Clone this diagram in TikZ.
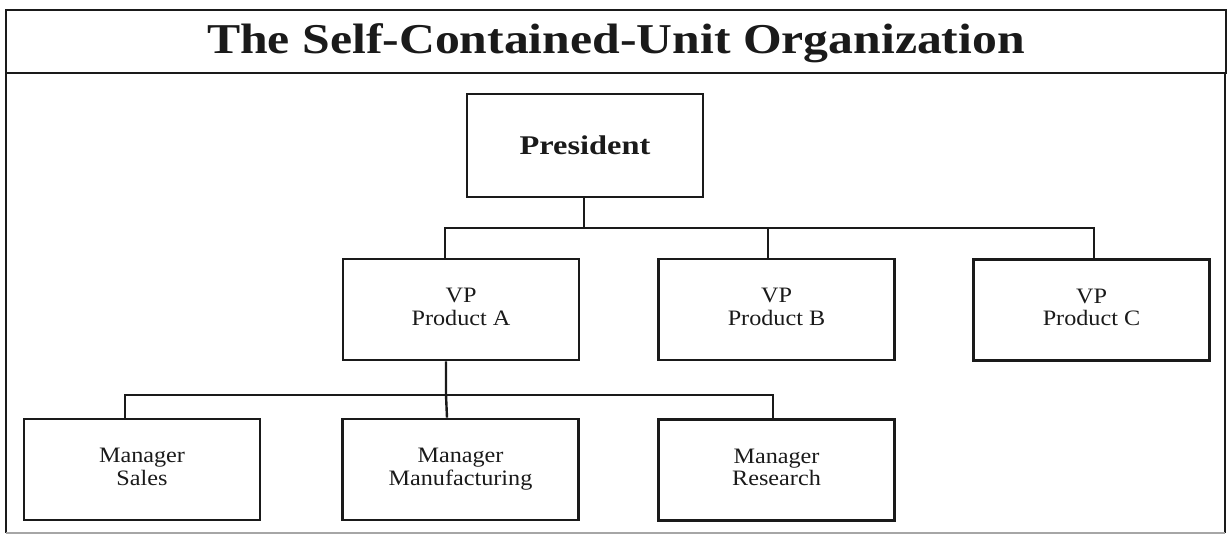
\documentclass[tikz,border=0pt]{standalone}
\usepackage{fontspec}
\setmainfont{Liberation Serif}
\definecolor{ink}{HTML}{1A1A1A}
\newcommand{\boxtxt}[1]{\raisebox{-2.5pt}{\scalebox{1.1}[1]{\fontsize{22}{22.5}\selectfont\begin{tabular}{@{}c@{}}#1\end{tabular}}}}
\begin{document}
\begin{tikzpicture}[x=1pt,y=-1pt,
  orgbox/.style={draw=ink, line width=2.6pt, minimum width=236pt, minimum height=101pt, inner sep=0pt, text=ink},
  link/.style={draw=ink, line width=2.4pt},
  frame/.style={draw=ink, line width=2.6pt}]
\useasboundingbox (0,0) rectangle (1228,534);
% frame
\draw[frame] (6,10) rectangle (1226,73);
\draw[frame] (6,73) -- (6,533);
\draw[frame] (1225,73) -- (1225,533);
\draw[draw=gray!70, line width=1.5pt] (6,533) -- (1225,533);
\node[text=ink] (title) at (616,43) {\scalebox{1.17}[1]{\fontsize{42.5}{44}\selectfont\bfseries The Self-Contained-Unit Organization}};
% boxes
\node[orgbox, minimum height=103pt] (pres) at (585,145.5) {\scalebox{1.2}[1]{\fontsize{27}{30}\selectfont\bfseries President}};
\node[orgbox] (vpa) at (461,309.5) {\boxtxt{VP\\Product A}};
\node[orgbox] (vpb) at (776.5,309.5) {\boxtxt{VP\\Product B}};
\node[orgbox] (vpc) at (1091.5,310) {\boxtxt{VP\\Product C}};
\node[orgbox] (ms) at (142,469.5) {\boxtxt{Manager\\Sales}};
\node[orgbox] (mm) at (460.5,469.5) {\boxtxt{Manager\\Manufacturing}};
\node[orgbox] (mr) at (776.5,470) {\boxtxt{Manager\\Research}};
% connector points
\coordinate (bus1) at (584,228);
\coordinate (bus2) at (446,395);
\coordinate (ca) at ([xshift=-16pt]vpa.north);
\coordinate (cb) at ([xshift=-8.5pt]vpb.north);
\coordinate (cc) at ([xshift=2.5pt]vpc.north);
\coordinate (cs) at ([xshift=-17pt]ms.north);
\coordinate (cm) at ([xshift=-13.5pt]mm.north);
\coordinate (cr) at ([xshift=-3.5pt]mr.north);
% connectors
\draw[link] (pres.south -| bus1) -- (bus1);
\draw[link] (ca) -- (ca |- bus1) -- (cc |- bus1) -- (cc);
\draw[link] (cb) -- (cb |- bus1);
\draw[link] (vpa.south -| bus2) -- (bus2) -- (cm);
\draw[link] (cs) -- (cs |- bus2) -- (cr |- bus2) -- (cr);
\end{tikzpicture}
\end{document}
